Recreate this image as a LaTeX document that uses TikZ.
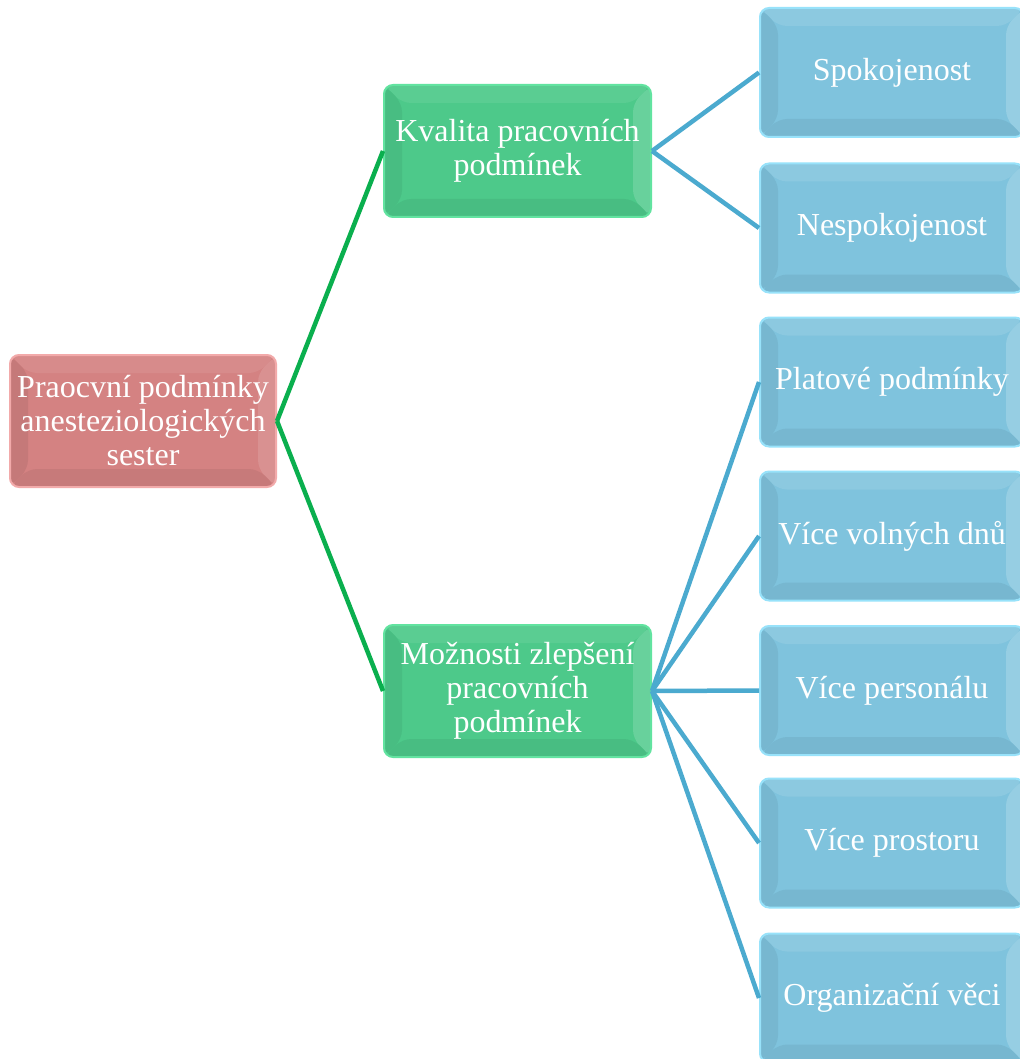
\documentclass[tikz,border=0pt]{standalone}
\usepackage{fontspec}
\setmainfont{Liberation Serif}
\definecolor{redbase}{HTML}{D48282}
\definecolor{redglow}{HTML}{F2AAAA}
\definecolor{greenbase}{HTML}{4DC98A}
\definecolor{greenglow}{HTML}{62E3A0}
\definecolor{bluebase}{HTML}{7FC3DD}
\definecolor{blueglow}{HTML}{98E2FA}
\definecolor{greenline}{HTML}{0AAF4E}
\definecolor{blueline}{HTML}{4BAACF}
\tikzset{
  bevel/.style n args={4}{path picture={
    \path (path picture bounding box.north west) coordinate (bNW)
          (path picture bounding box.north east) coordinate (bNE)
          (path picture bounding box.south west) coordinate (bSW)
          (path picture bounding box.south east) coordinate (bSE);
    \fill[#1] (bNW) -- (bNE) -- ([shift={(-18pt,-18pt)}]bNE) -- ([shift={(18pt,-18pt)}]bNW) -- cycle;
    \fill[#2] (bNE) -- (bSE) -- ([shift={(-18pt,18pt)}]bSE) -- ([shift={(-18pt,-18pt)}]bNE) -- cycle;
    \fill[#3] (bNW) -- (bSW) -- ([shift={(18pt,18pt)}]bSW) -- ([shift={(18pt,-18pt)}]bNW) -- cycle;
    \fill[#4] (bSW) -- (bSE) -- ([shift={(-18pt,18pt)}]bSE) -- ([shift={(18pt,18pt)}]bSW) -- cycle;
  }},
  box/.style={rectangle, rounded corners=9pt, inner sep=0pt, line width=2pt,
    text=white, align=center, font=\fontsize{32}{34}\selectfont},
  rootbox/.style={box, fill=redbase, draw=redglow, minimum width=266pt, minimum height=132pt,
    bevel={redbase!93!white}{redbase!88!white}{redbase!93!black}{redbase!94!black}},
  midbox/.style={box, fill=greenbase, draw=greenglow, minimum width=267pt, minimum height=132pt,
    bevel={greenbase!93!white}{greenbase!85!white}{greenbase!94!black}{greenbase!94!black}},
  leafbox/.style={box, fill=bluebase, draw=blueglow, minimum width=264pt, minimum height=129pt,
    bevel={bluebase!90!white}{bluebase!82!white}{bluebase!94!black}{bluebase!94!black}},
  gline/.style={draw=greenline, line width=4.5pt},
  bline/.style={draw=blueline, line width=4.5pt}
}
\begin{document}
\begin{tikzpicture}[x=1pt,y=-1pt]
\useasboundingbox[fill=white] (0,0) rectangle (1019,1059);
\node[rootbox] (root) at (143,421) {Praocvní podmínky\\anesteziologických\\sester};
\node[midbox] (m1) at (517.5,151) {Kvalita pracovních\\podmínek};
\node[midbox] (m2) at (517.5,691) {Možnosti zlepšení\\pracovních\\podmínek};
\node[leafbox] (l1) at (892,72.5) {Spokojenost};
\node[leafbox] (l2) at (892,228) {Nespokojenost};
\node[leafbox] (l3) at (892,382) {Platové podmínky};
\node[leafbox] (l4) at (892,536) {Více volných dnů};
\node[leafbox] (l5) at (892,690.5) {Více personálu};
\node[leafbox] (l6) at (892,843) {Více prostoru};
\node[leafbox] (l7) at (892,998) {Organizační věci};
\draw[gline] (root.east) -- (m1.west);
\draw[gline] (root.east) -- (m2.west);
\draw[bline] (m1.east) -- (l1.west);
\draw[bline] (m1.east) -- (l2.west);
\foreach \n in {l3,l4,l5,l6,l7} \draw[bline] (m2.east) -- (\n.west);
\end{tikzpicture}
\end{document}
